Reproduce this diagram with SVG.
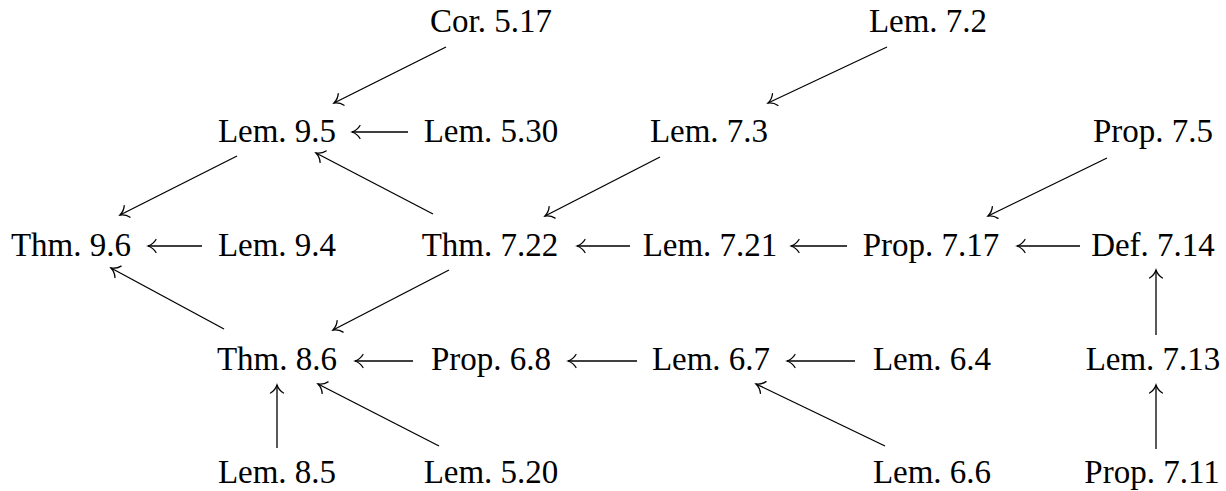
<svg xmlns="http://www.w3.org/2000/svg" width="1226" height="491" viewBox="0 0 1226 491">
<style>
text{font-family:"Liberation Serif","Times New Roman",serif;font-size:33px;fill:#000;text-anchor:middle}
.e line{stroke:#000;stroke-width:1.3;fill:none;marker-end:url(#to)}
</style>
<defs>
<marker id="to" markerUnits="userSpaceOnUse" viewBox="-10 -8 12 16" refX="0" refY="0" markerWidth="12" markerHeight="16" orient="auto" overflow="visible">
<path d="M-8,-6.5 C-6,-3 -2,-0.7 0,0 C-2,0.7 -6,3 -8,6.5" fill="none" stroke="#000" stroke-width="1.3" stroke-linecap="round"/>
</marker>
</defs>
<rect width="1226" height="491" fill="#fff"/>
<g id="cor517"><text x="491" y="32">Cor. 5.17</text></g>
<g id="lem72"><text x="928" y="32">Lem. 7.2</text></g>
<g id="lem95"><text x="277" y="142">Lem. 9.5</text></g>
<g id="lem530"><text x="491" y="142">Lem. 5.30</text></g>
<g id="lem73"><text x="709" y="142">Lem. 7.3</text></g>
<g id="prop75"><text x="1153" y="142">Prop. 7.5</text></g>
<g id="thm96"><text x="71" y="256">Thm. 9.6</text></g>
<g id="lem94"><text x="277" y="256">Lem. 9.4</text></g>
<g id="thm722"><text x="490" y="256">Thm. 7.22</text></g>
<g id="lem721"><text x="710" y="256">Lem. 7.21</text></g>
<g id="prop717"><text x="931" y="256">Prop. 7.17</text></g>
<g id="def714"><text x="1153" y="256">Def. 7.14</text></g>
<g id="thm86"><text x="277" y="370">Thm. 8.6</text></g>
<g id="prop68"><text x="491" y="370">Prop. 6.8</text></g>
<g id="lem67"><text x="711" y="370">Lem. 6.7</text></g>
<g id="lem64"><text x="932" y="370">Lem. 6.4</text></g>
<g id="lem713"><text x="1153" y="370">Lem. 7.13</text></g>
<g id="lem85"><text x="277" y="483">Lem. 8.5</text></g>
<g id="lem520"><text x="491" y="483">Lem. 5.20</text></g>
<g id="lem66"><text x="932" y="483">Lem. 6.6</text></g>
<g id="prop711"><text x="1152" y="483">Prop. 7.11</text></g>
<g id="edges" class="e">
<line x1="408" y1="132" x2="352" y2="132"/>
<line x1="202" y1="246" x2="148" y2="246"/>
<line x1="630" y1="246" x2="577" y2="246"/>
<line x1="847" y1="246" x2="791" y2="246"/>
<line x1="1080" y1="246" x2="1017" y2="246"/>
<line x1="413" y1="361" x2="355" y2="361"/>
<line x1="637" y1="361" x2="568" y2="361"/>
<line x1="855" y1="361" x2="787" y2="361"/>
<line x1="1156" y1="335" x2="1156" y2="270"/>
<line x1="1156" y1="449" x2="1156" y2="385"/>
<line x1="277" y1="448" x2="277" y2="385"/>
<line x1="446" y1="47" x2="334" y2="103"/>
<line x1="887" y1="47" x2="768" y2="103"/>
<line x1="237" y1="156" x2="120" y2="215"/>
<line x1="433" y1="214" x2="316" y2="153"/>
<line x1="660" y1="157" x2="545" y2="216"/>
<line x1="1107" y1="158" x2="988" y2="216"/>
<line x1="224" y1="329" x2="111" y2="268"/>
<line x1="449" y1="270" x2="333" y2="330"/>
<line x1="439" y1="446" x2="318" y2="384"/>
<line x1="885" y1="446" x2="756" y2="384"/>
</g>
</svg>
